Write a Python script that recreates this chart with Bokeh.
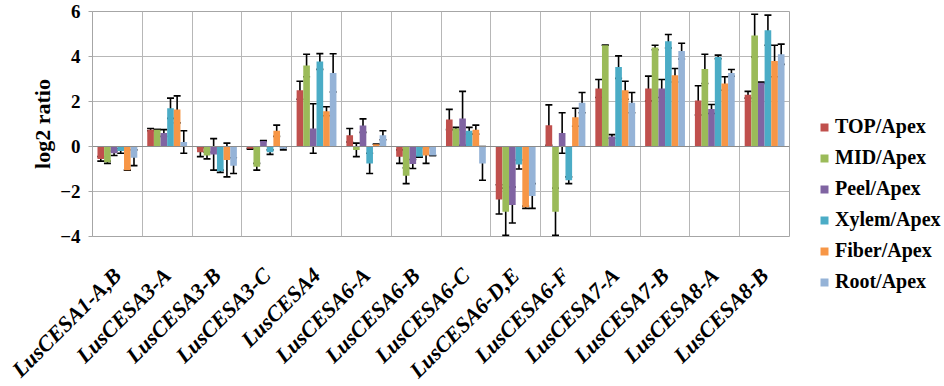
import math
from bokeh.plotting import figure
from bokeh.models import (ColumnDataSource, Whisker, TeeHead, FixedTicker, Legend,
                          LegendItem, Range1d, Span)
from bokeh.embed import file_html
from bokeh.resources import INLINE

genes = ["LusCESA1-A,B", "LusCESA3-A", "LusCESA3-B", "LusCESA3-C", "LusCESA4",
         "LusCESA6-A", "LusCESA6-B", "LusCESA6-C", "LusCESA6-D,E", "LusCESA6-F",
         "LusCESA7-A", "LusCESA7-B", "LusCESA8-A", "LusCESA8-B"]
series = ["TOP/Apex", "MID/Apex", "Peel/Apex", "Xylem/Apex", "Fiber/Apex", "Root/Apex"]
colors = ["#C0504D", "#9BBB59", "#8064A2", "#4BACC6", "#F79646", "#95B3D7"]

top_apex   = [-0.55, 0.75, -0.25, -0.10, 2.50, 0.50, -0.45, 1.20, -2.35, 0.95, 2.58, 2.58, 2.05, 2.30]
mid_apex   = [-0.70, 0.75, -0.40, -0.90, 3.60, -0.15, -1.30, 0.80, -2.90, -2.90, 4.50, 4.40, 3.45, 4.93]
peel_apex  = [-0.30, 0.60, -0.35, 0.25, 0.80, 0.93, -0.78, 1.25, -2.60, 0.60, 0.45, 2.58, 1.67, 2.83]
xylem_apex = [-0.20, 1.70, -1.10, -0.25, 3.78, -0.75, -0.45, 0.70, -0.80, -1.50, 3.53, 4.68, 3.98, 5.17]
fiber_apex = [-1.05, 1.65, -0.60, 0.70, 1.57, 0.10, -0.40, 0.75, -2.70, 1.30, 2.50, 3.17, 2.80, 3.80]
root_apex  = [-0.50, 0.20, -0.85, -0.10, 3.27, 0.50, -0.40, -0.75, -2.20, 1.95, 1.95, 4.24, 3.27, 4.10]

top_err   = [0.10, 0.05, 0.20, 0.02, 0.40, 0.30, 0.30, 0.45, 0.65, 0.90, 0.40, 0.55, 0.65, 0.15]
mid_err   = [0.05, 0.00, 0.15, 0.15, 0.50, 0.30, 0.35, 0.05, 1.05, 1.05, 0.00, 0.10, 0.65, 0.95]
peel_err  = [0.10, 0.15, 0.70, 0.02, 1.10, 0.30, 0.20, 1.20, 0.80, 0.90, 0.08, 0.40, 0.20, 0.03]
xylem_err = [0.10, 0.45, 0.05, 0.10, 0.35, 0.45, 0.02, 0.15, 0.20, 0.15, 0.50, 0.30, 0.08, 0.67]
fiber_err = [0.00, 0.60, 0.75, 0.25, 0.20, 0.00, 0.35, 0.20, 0.05, 0.40, 0.40, 0.30, 0.30, 0.70]
root_err  = [0.35, 0.50, 0.35, 0.05, 0.85, 0.20, 0.00, 0.75, 0.55, 0.45, 0.45, 0.35, 0.15, 0.45]

values = [top_apex, mid_apex, peel_apex, xylem_apex, fiber_apex, root_apex]
errors = [top_err, mid_err, peel_err, xylem_err, fiber_err, root_err]

y_ticks = [-4, -2, 0, 2, 4, 6]

n = len(genes)
p = figure(frame_width=697, frame_height=225, output_backend="svg", toolbar_location=None,
           x_range=Range1d(0.5, n + 0.5), y_range=Range1d(-4, 6),
           min_border_left=92, min_border_right=0, min_border_top=11, min_border_bottom=134)
p.background_fill_color = "white"
p.border_fill_color = "white"
p.outline_line_color = "#A6A6A6"
p.outline_line_width = 1

# grids
p.ygrid.ticker = FixedTicker(ticks=y_ticks)
p.ygrid.grid_line_color = "#B7B7B7"
p.ygrid.grid_line_width = 1
p.xgrid.ticker = FixedTicker(ticks=[i + 0.5 for i in range(n + 1)])
p.xgrid.grid_line_color = "#B7B7B7"
p.xgrid.grid_line_width = 1

# y axis
p.yaxis.ticker = FixedTicker(ticks=y_ticks)
p.yaxis.axis_label = "log2 ratio"
p.yaxis.axis_label_text_font = "Liberation Serif"
p.yaxis.axis_label_text_font_style = "bold"
p.yaxis.axis_label_text_font_size = "22px"
p.yaxis.axis_label_text_color = "black"
p.yaxis.axis_label_standoff = 2
p.yaxis.major_label_text_font = "Liberation Serif"
p.yaxis.major_label_text_font_style = "bold"
p.yaxis.major_label_text_font_size = "19px"
p.yaxis.major_label_text_color = "black"
p.yaxis.axis_line_color = "#A6A6A6"
p.yaxis.major_tick_line_color = "#A6A6A6"
p.yaxis.major_tick_out = 4
p.yaxis.major_tick_in = 0
p.yaxis.minor_tick_line_color = None
p.yaxis.major_label_standoff = 8

# x axis
p.xaxis.ticker = FixedTicker(ticks=list(range(1, n + 1)))
p.xaxis.major_label_overrides = {i + 1: g for i, g in enumerate(genes)}
p.xaxis.major_label_orientation = math.pi / 4
p.xaxis.major_label_text_font = "Liberation Serif"
p.xaxis.major_label_text_font_style = "bold italic"
p.xaxis.major_label_text_font_size = "22px"
p.xaxis.major_label_text_color = "black"
p.xaxis.axis_line_color = None
p.xaxis.major_tick_line_color = None
p.xaxis.minor_tick_line_color = None
p.xaxis.major_label_standoff = 29

# zero line
p.add_layout(Span(location=0, dimension="width", line_color="#8C8C8C", line_width=1.2))

group_w = 0.8
bw = group_w / len(series)
items = []
for k, (name, vals, errs, col) in enumerate(zip(series, values, errors, colors)):
    off = -group_w / 2 + bw * (k + 0.5)
    xs = [i + 1 + off for i in range(n)]
    src = ColumnDataSource(data=dict(
        x=xs, top=vals,
        upper=[v + e for v, e in zip(vals, errs)],
        lower=[v - e for v, e in zip(vals, errs)]))
    r = p.vbar(x="x", top="top", bottom=0, width=bw, source=src,
               fill_color=col, line_color=None)
    w = Whisker(base="x", upper="upper", lower="lower", source=src,
                line_color="black", line_width=1.6,
                upper_head=TeeHead(size=7, line_color="black", line_width=1.6),
                lower_head=TeeHead(size=7, line_color="black", line_width=1.6))
    p.add_layout(w)
    items.append(LegendItem(label=name, renderers=[r]))

legend = Legend(items=items, location=(30, -57), orientation="vertical",
                label_text_font_size="20px", label_text_color="black",
                glyph_width=10, glyph_height=10, label_standoff=6,
                spacing=8, padding=0, margin=0, border_line_color=None,
                background_fill_alpha=0)
legend.label_text_font = "Liberation Serif"
legend.label_text_font_style = "bold"
p.add_layout(legend, "right")

open("out.html", "w").write(file_html(p, INLINE))
